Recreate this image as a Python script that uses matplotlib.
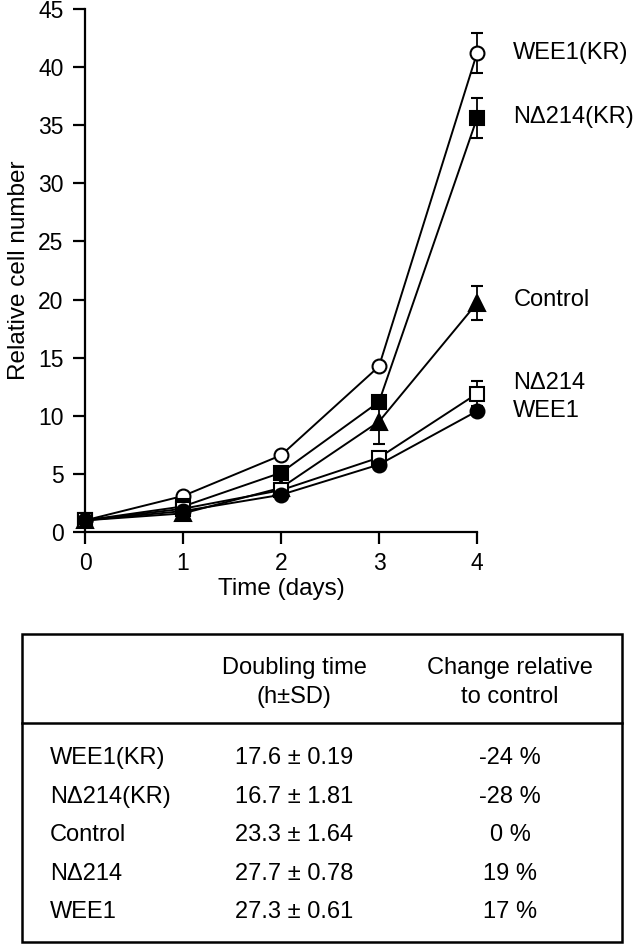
import matplotlib
matplotlib.use("Agg")
from matplotlib import pyplot as plt
from matplotlib.patches import Rectangle

plt.rcParams['font.family'] = ['Liberation Sans', 'DejaVu Sans']
plt.rcParams['font.size'] = 17

# data
days = [0, 1, 2, 3, 4]
names = ["WEE1(KR)", "N\u0394214(KR)", "Control", "N\u0394214", "WEE1"]
wee1_kr = [1.0, 3.1, 6.6, 14.25, 41.2]
nd214_kr = [1.0, 2.2, 5.1, 11.2, 35.6]
control = [1.0, 1.6, 3.8, 9.5, 19.7]
nd214 = [1.0, 2.0, 3.6, 6.4, 11.9]
wee1 = [1.0, 1.8, 3.2, 5.8, 10.4]
wee1_kr_sd = [0, 0, 0, 0, 1.7]
nd214_kr_sd = [0, 0, 0, 0, 1.7]
control_sd = [0, 0, 0, 1.9, 1.45]
nd214_sd = [0, 0, 0, 0, 1.1]
wee1_sd = [0, 0, 0, 0, 0]
label_y = [41.2, 35.7, 20.0, 12.8, 10.4]

# table
row_labels = ["WEE1(KR)", "N\u0394214(KR)", "Control", "N\u0394214", "WEE1"]
doubling = ["17.6 \u00b1 0.19", "16.7 \u00b1 1.81", "23.3 \u00b1 1.64", "27.7 \u00b1 0.78", "27.3 \u00b1 0.61"]
change = ["-24 %", "-28 %", "0 %", "19 %", "17 %"]

series = [wee1_kr, nd214_kr, control, nd214, wee1]
errs = [wee1_kr_sd, nd214_kr_sd, control_sd, nd214_sd, wee1_sd]
markers = ['o', 's', '^', 's', 'o']
fills = ['white', 'black', 'black', 'white', 'black']
msizes = [10, 10, 11, 10, 10]

W, H = 634, 944
fig = plt.figure(figsize=(W / 100, H / 100), dpi=100)
ax = fig.add_axes([85 / W, (H - 532) / H, (477 - 85) / W, (532 - 9) / H])

for i in range(5):
    ax.errorbar(days, series[i], yerr=errs[i], fmt='none', ecolor='black',
                elinewidth=1.3, capsize=4, capthick=1.5, zorder=2, clip_on=False)
    ax.plot(days, series[i], color='black', lw=1.4, marker=markers[i],
            markersize=msizes[i], markerfacecolor=fills[i],
            markeredgecolor='black', markeredgewidth=1.5, zorder=3 + i, clip_on=False)
    ax.text(4.37, label_y[i], names[i], va='center', ha='left', fontsize=17)

ax.set_xlim(0, 4)
ax.set_ylim(0, 45)
ax.set_xticks(days)
ax.set_yticks(range(0, 46, 5))
for s in ['top', 'right']:
    ax.spines[s].set_visible(False)
for s in ['left', 'bottom']:
    ax.spines[s].set_linewidth(1.6)
ax.tick_params(width=1.6, length=8.5, labelsize=16.5)
ax.tick_params(axis='y', pad=7)
ax.tick_params(axis='x', pad=6)
ax.set_xlabel("Time (days)", fontsize=17.5, labelpad=2)
ax.set_ylabel("Relative cell number", fontsize=17.5, labelpad=6)

# table drawn in pixel coordinates
tb = fig.add_axes([0, 0, 1, 1])
tb.set_xlim(0, W)
tb.set_ylim(H, 0)
tb.axis('off')
tb.add_patch(Rectangle((22, 634), 600, 308, fill=False, lw=1.8, edgecolor='black'))
tb.plot([22, 622], [723, 723], color='black', lw=1.8)
fs = 17
tb.text(294, 668, "Doubling time", ha='center', va='center', fontsize=fs)
tb.text(294, 697, "(h\u00b1SD)", ha='center', va='center', fontsize=fs)
tb.text(510, 668, "Change relative", ha='center', va='center', fontsize=fs)
tb.text(510, 697, "to control", ha='center', va='center', fontsize=fs)
row_y = [758, 797, 835, 874, 912]
for j in range(5):
    tb.text(50, row_y[j], row_labels[j], ha='left', va='center', fontsize=fs)
    tb.text(294, row_y[j], doubling[j], ha='center', va='center', fontsize=fs)
    tb.text(510, row_y[j], change[j], ha='center', va='center', fontsize=fs)

fig.savefig("out.png", dpi=100)
